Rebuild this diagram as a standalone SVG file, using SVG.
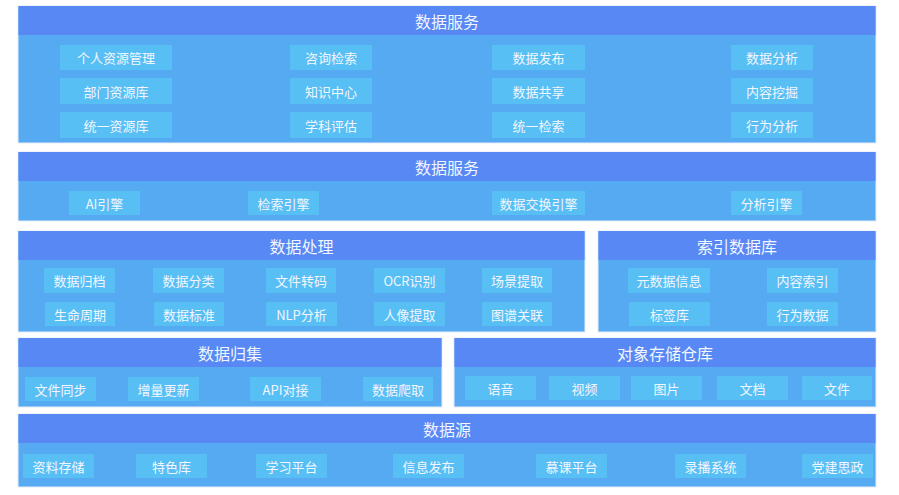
<svg xmlns="http://www.w3.org/2000/svg" width="899" height="495" viewBox="0 0 899 495">
<style>
.body{fill:#56aaf2;stroke:#e4ecf8;stroke-width:1}
.hd{fill:#5788f4}
.it{fill:#58bff5}
.ht{font-family:"Noto Sans CJK SC","Liberation Sans",sans-serif;font-size:16px;fill:#f2f6ff;text-anchor:middle;dominant-baseline:central}
.tt{font-family:"Noto Sans CJK SC","Liberation Sans",sans-serif;font-size:13px;fill:#f2f6ff;text-anchor:middle;dominant-baseline:central}
</style>
<rect width="899" height="495" fill="#ffffff"/>

<g id="panel-services">
<rect class="body" x="18" y="6" width="858" height="137"/>
<rect class="hd" x="18.5" y="6" width="857" height="29"/>
<text class="ht" x="447" y="20.5">数据服务</text>
<rect class="it" x="60" y="45" width="112" height="25"/><text class="tt" x="116" y="57.5">个人资源管理</text>
<rect class="it" x="290" y="45" width="82" height="25"/><text class="tt" x="331" y="57.5">咨询检索</text>
<rect class="it" x="492" y="45" width="93" height="25"/><text class="tt" x="538.5" y="57.5">数据发布</text>
<rect class="it" x="731" y="45" width="82" height="25"/><text class="tt" x="772" y="57.5">数据分析</text>
<rect class="it" x="60" y="78" width="112" height="26"/><text class="tt" x="116" y="91">部门资源库</text>
<rect class="it" x="290" y="78" width="82" height="26"/><text class="tt" x="331" y="91">知识中心</text>
<rect class="it" x="492" y="78" width="93" height="26"/><text class="tt" x="538.5" y="91">数据共享</text>
<rect class="it" x="731" y="78" width="82" height="26"/><text class="tt" x="772" y="91">内容挖掘</text>
<rect class="it" x="60" y="112" width="112" height="26"/><text class="tt" x="116" y="125">统一资源库</text>
<rect class="it" x="290" y="112" width="82" height="26"/><text class="tt" x="331" y="125">学科评估</text>
<rect class="it" x="492" y="112" width="93" height="26"/><text class="tt" x="538.5" y="125">统一检索</text>
<rect class="it" x="731" y="112" width="82" height="26"/><text class="tt" x="772" y="125">行为分析</text>
</g>

<g id="panel-engines">
<rect class="body" x="18" y="152" width="858" height="69"/>
<rect class="hd" x="18.5" y="152" width="857" height="29"/>
<text class="ht" x="447" y="166.5">数据服务</text>
<rect class="it" x="69" y="191" width="71" height="24"/><text class="tt" x="104.5" y="203">AI引擎</text>
<rect class="it" x="248" y="191" width="71" height="24"/><text class="tt" x="283.5" y="203">检索引擎</text>
<rect class="it" x="492" y="191" width="93" height="24"/><text class="tt" x="538.5" y="203">数据交换引擎</text>
<rect class="it" x="731" y="191" width="71" height="24"/><text class="tt" x="766.5" y="203">分析引擎</text>
</g>

<g id="panel-processing">
<rect class="body" x="18" y="231" width="567" height="101"/>
<rect class="hd" x="18.5" y="231" width="566" height="29"/>
<text class="ht" x="301.5" y="245.5">数据处理</text>
<rect class="it" x="44" y="268" width="71" height="25"/><text class="tt" x="79.5" y="280.5">数据归档</text>
<rect class="it" x="153" y="268" width="71" height="25"/><text class="tt" x="188.5" y="280.5">数据分类</text>
<rect class="it" x="266" y="268" width="70" height="25"/><text class="tt" x="301" y="280.5">文件转码</text>
<rect class="it" x="374" y="268" width="71" height="25"/><text class="tt" x="409.5" y="280.5">OCR识别</text>
<rect class="it" x="482" y="268" width="70" height="25"/><text class="tt" x="517" y="280.5">场景提取</text>
<rect class="it" x="45" y="302" width="70" height="24"/><text class="tt" x="80" y="314">生命周期</text>
<rect class="it" x="154" y="302" width="70" height="24"/><text class="tt" x="189" y="314">数据标准</text>
<rect class="it" x="266" y="302" width="71" height="24"/><text class="tt" x="301.5" y="314">NLP分析</text>
<rect class="it" x="374" y="302" width="71" height="24"/><text class="tt" x="409.5" y="314">人像提取</text>
<rect class="it" x="482" y="302" width="70" height="24"/><text class="tt" x="517" y="314">图谱关联</text>
</g>

<g id="panel-index">
<rect class="body" x="598" y="231" width="278" height="101"/>
<rect class="hd" x="598.5" y="231" width="277" height="29"/>
<text class="ht" x="737" y="245.5">索引数据库</text>
<rect class="it" x="628" y="268" width="82" height="25"/><text class="tt" x="669" y="280.5">元数据信息</text>
<rect class="it" x="767" y="268" width="71" height="25"/><text class="tt" x="802.5" y="280.5">内容索引</text>
<rect class="it" x="629" y="302" width="81" height="24"/><text class="tt" x="669.5" y="314">标签库</text>
<rect class="it" x="767" y="302" width="71" height="24"/><text class="tt" x="802.5" y="314">行为数据</text>
</g>

<g id="panel-collect">
<rect class="body" x="18" y="338" width="424" height="69"/>
<rect class="hd" x="18.5" y="338" width="423" height="29"/>
<text class="ht" x="230" y="352.5">数据归集</text>
<rect class="it" x="25" y="377" width="71" height="24"/><text class="tt" x="60.5" y="389">文件同步</text>
<rect class="it" x="128" y="377" width="71" height="24"/><text class="tt" x="163.5" y="389">增量更新</text>
<rect class="it" x="250" y="377" width="71" height="24"/><text class="tt" x="285.5" y="389">API对接</text>
<rect class="it" x="363" y="377" width="70" height="24"/><text class="tt" x="398" y="389">数据爬取</text>
</g>

<g id="panel-object">
<rect class="body" x="454" y="338" width="422" height="69"/>
<rect class="hd" x="454.5" y="338" width="421" height="29"/>
<text class="ht" x="665" y="352.5">对象存储仓库</text>
<rect class="it" x="465" y="376" width="71" height="24"/><text class="tt" x="500.5" y="388">语音</text>
<rect class="it" x="549" y="376" width="71" height="24"/><text class="tt" x="584.5" y="388">视频</text>
<rect class="it" x="631" y="376" width="71" height="24"/><text class="tt" x="666.5" y="388">图片</text>
<rect class="it" x="717" y="376" width="71" height="24"/><text class="tt" x="752.5" y="388">文档</text>
<rect class="it" x="802" y="376" width="70" height="24"/><text class="tt" x="837" y="388">文件</text>
</g>

<g id="panel-sources">
<rect class="body" x="18" y="414" width="858" height="73"/>
<rect class="hd" x="18.5" y="414" width="857" height="29"/>
<text class="ht" x="447" y="428.5">数据源</text>
<rect class="it" x="23" y="454" width="71" height="24"/><text class="tt" x="58.5" y="466">资料存储</text>
<rect class="it" x="136" y="454" width="71" height="24"/><text class="tt" x="171.5" y="466">特色库</text>
<rect class="it" x="256" y="454" width="71" height="24"/><text class="tt" x="291.5" y="466">学习平台</text>
<rect class="it" x="393" y="454" width="71" height="24"/><text class="tt" x="428.5" y="466">信息发布</text>
<rect class="it" x="536" y="454" width="71" height="24"/><text class="tt" x="571.5" y="466">慕课平台</text>
<rect class="it" x="675" y="454" width="71" height="24"/><text class="tt" x="710.5" y="466">录播系统</text>
<rect class="it" x="802" y="454" width="71" height="24"/><text class="tt" x="837.5" y="466">党建思政</text>
</g>

<g id="connectors"></g>
</svg>
